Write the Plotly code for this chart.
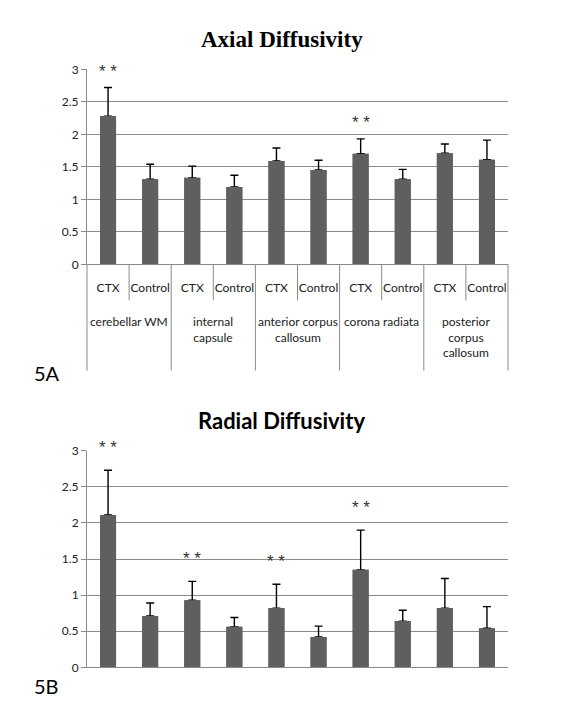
import plotly.graph_objects as go

# ---------------- data ----------------
groups = ["cerebellar WM", "internal<br>capsule", "anterior corpus<br>callosum",
          "corona radiata", "posterior<br>corpus<br>callosum"]
conditions = ["CTX", "Control"]
bar_labels = [c for g in groups for c in conditions]

axial_values = [2.28, 1.31, 1.33, 1.19, 1.59, 1.45, 1.70, 1.31, 1.71, 1.61]
axial_errors = [0.44, 0.23, 0.18, 0.18, 0.20, 0.15, 0.23, 0.15, 0.14, 0.30]
axial_sig = ["**", "", "", "", "", "", "**", "", "", ""]

radial_values = [2.11, 0.71, 0.93, 0.56, 0.82, 0.42, 1.35, 0.64, 0.82, 0.54]
radial_errors = [0.62, 0.18, 0.26, 0.13, 0.33, 0.15, 0.55, 0.15, 0.41, 0.30]
radial_sig = ["**", "", "**", "", "**", "", "**", "", "", ""]

y_ticks = [0, 0.5, 1, 1.5, 2, 2.5, 3]
titles = ["Axial Diffusivity", "Radial Diffusivity"]
panel_labels = ["5A", "5B"]

# ---------------- style ----------------
# page body has an 8px margin, so the figure is 8px smaller than the window
W, H = 559, 712
BAR = "#5f5f5f"
GRID = "#8a8a8a"
TXT = "#222222"
SANS = "Lato, 'Liberation Sans', Arial, sans-serif"
xpos = list(range(len(bar_labels)))

fig = go.Figure()

def add_panel(values, errors, xa, ya):
    # bar with error bars (upper only)
    fig.add_trace(go.Bar(
        x=xpos, y=values, xaxis=xa, yaxis=ya, width=0.38,
        marker=dict(color=BAR, line=dict(width=0)),
        error_y=dict(type="data", array=errors, arrayminus=[0] * len(errors),
                     symmetric=False, color="black", thickness=1.4, width=4),
        hoverinfo="skip", showlegend=False))
    # same bars again on top, hiding the lower error-bar cap
    fig.add_trace(go.Bar(
        x=xpos, y=values, xaxis=xa, yaxis=ya, width=0.38,
        marker=dict(color=BAR, line=dict(width=0)),
        hoverinfo="x+y", showlegend=False))

add_panel(axial_values, axial_errors, "x", "y")
add_panel(radial_values, radial_errors, "x2", "y2")

# significance markers
for sig, v, e, xr, yr, shift in [(axial_sig, axial_values, axial_errors, "x", "y", 16),
                                 (radial_sig, radial_values, radial_errors, "x2", "y2", 23)]:
    for i, s in enumerate(sig):
        if s:
            fig.add_annotation(x=xpos[i], y=v[i] + e[i], xref=xr, yref=yr,
                               text=" ".join(s), showarrow=False, yanchor="middle",
                               yshift=shift,
                               font=dict(family="'Liberation Sans', Arial, sans-serif",
                                         size=17, color="#333333"))

yaxis_common = dict(range=[0, 3], tickvals=y_ticks, showgrid=True, gridcolor=GRID,
                    gridwidth=1, showline=True, linecolor=GRID, linewidth=1,
                    ticks="outside", ticklen=5, tickcolor=GRID, automargin=False,
                    zeroline=True, zerolinecolor=GRID, zerolinewidth=1,
                    tickfont=dict(family=SANS, size=12, color=TXT), fixedrange=True)

fig.update_layout(
    width=W, height=H,
    margin=dict(l=79.3, r=58.7, t=0, b=0, autoexpand=False),
    paper_bgcolor="white", plot_bgcolor="white",
    barmode="overlay",
    xaxis=dict(domain=[0, 1], anchor="y", range=[-0.5, 9.5], tickvals=xpos,
               ticktext=bar_labels, ticks="", showline=True, linecolor=GRID,
               showgrid=False, zeroline=False, ticklabelstandoff=12, automargin=False,
               tickfont=dict(family=SANS, size=12, color=TXT), fixedrange=True),
    yaxis=dict(domain=[0.64003, 0.91390], anchor="x", **yaxis_common),
    xaxis2=dict(domain=[0, 1], anchor="y2", range=[-0.5, 9.5], showticklabels=False,
                ticks="", showline=True, linecolor=GRID, showgrid=False,
                zeroline=False, fixedrange=True, automargin=False),
    yaxis2=dict(domain=[0.07402, 0.37823], anchor="x2", **yaxis_common),
)

# category-axis dividers below the top chart
n = len(bar_labels)
for k in range(len(groups) + 1):
    fig.add_shape(type="line", xref="x domain", yref="y domain",
                  x0=2 * k / n, x1=2 * k / n, y0=0, y1=-0.545,
                  line=dict(color=GRID, width=1))
for k in range(len(groups)):
    fig.add_shape(type="line", xref="x domain", yref="y domain",
                  x0=(2 * k + 1) / n, x1=(2 * k + 1) / n, y0=0, y1=-0.185,
                  line=dict(color=GRID, width=1))

# group labels
for k, g in enumerate(groups):
    fig.add_annotation(x=2 * k + 0.5, xref="x", y=-0.245, yref="y domain",
                       text=g, showarrow=False, yanchor="top",
                       font=dict(family=SANS, size=12, color=TXT))

# titles
fig.add_annotation(x=0.4625, y=0.9551, xref="paper", yref="paper", text="<b>" + titles[0] + "</b>",
                   showarrow=False, yanchor="middle",
                   font=dict(family="'Liberation Serif', 'Times New Roman', serif", size=23, color="black"))
fig.add_annotation(x=0.4625, y=0.4213, xref="paper", yref="paper", text="<b>" + titles[1] + "</b>",
                   showarrow=False, yanchor="middle",
                   font=dict(family=SANS, size=22, color="black"))

# panel labels
for lab, yy in zip(panel_labels, [0.4874, 0.0478]):
    fig.add_annotation(x=-0.1314, y=yy, xref="paper", yref="paper", text=lab,
                       showarrow=False, xanchor="left", yanchor="middle",
                       font=dict(family=SANS, size=20, color="black"))

fig.write_html("out.html")
